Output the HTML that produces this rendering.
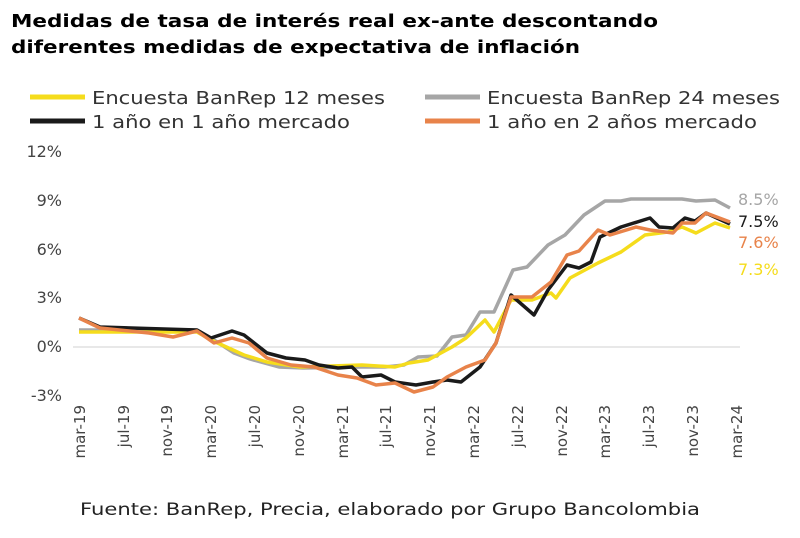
<!DOCTYPE html><html><head><meta charset="utf-8"><style>
body{margin:0;background:#fff;width:800px;height:533px;overflow:hidden}
</style></head><body>
<svg width="800" height="533" xmlns="http://www.w3.org/2000/svg" font-family="DejaVu Sans, Liberation Sans, sans-serif">
<text x="11" y="27" font-size="18" font-weight="bold" textLength="647" lengthAdjust="spacingAndGlyphs">Medidas de tasa de interés real ex-ante descontando</text>
<text x="11" y="53" font-size="18" font-weight="bold" textLength="569" lengthAdjust="spacingAndGlyphs">diferentes medidas de expectativa de inflación</text>
<g font-size="18" fill="#333">
<line x1="30" y1="97" x2="85" y2="97" stroke="#f5dc1c" stroke-width="5"/><text x="92" y="104" textLength="293" lengthAdjust="spacingAndGlyphs">Encuesta BanRep 12 meses</text>
<line x1="425" y1="97" x2="480" y2="97" stroke="#a6a6a6" stroke-width="5"/><text x="487" y="104" textLength="293" lengthAdjust="spacingAndGlyphs">Encuesta BanRep 24 meses</text>
<line x1="30" y1="121" x2="85" y2="121" stroke="#1a1a1a" stroke-width="5"/><text x="92" y="128" textLength="258" lengthAdjust="spacingAndGlyphs">1 año en 1 año mercado</text>
<line x1="425" y1="121" x2="480" y2="121" stroke="#e8834a" stroke-width="5"/><text x="487" y="128" textLength="270" lengthAdjust="spacingAndGlyphs">1 año en 2 años mercado</text>
</g>
<g font-size="16" fill="#444" text-anchor="end">
<text x="62" y="157">12%</text><text x="62" y="206">9%</text><text x="62" y="255">6%</text><text x="62" y="303">3%</text><text x="62" y="352">0%</text><text x="62" y="401">-3%</text>
</g>
<line x1="73" y1="347" x2="740" y2="347" stroke="#d0d0d0" stroke-width="1"/>
<g fill="none" stroke-width="3.5" stroke-linejoin="round" transform="translate(-5,0)">
<polyline stroke="#a6a6a6" points="84,330 202,330 216,338 239,353 255,359 284,367 308,368 367,367 390,367 409,365 423,357 442,356 457,337 471,335 485,312 499,312 518,270 532,267 553,245 570,235 589,215 610,201 626,201 636,199 687,199 701,201 720,200 735,208"/>
<polyline stroke="#f5dc1c" points="84,332 202,332 216,340 249,355 272,362 305,367 367,365 400,367 414,363 433,360 457,347 471,338 490,320 499,332 516,300 537,300 556,293 561,298 575,278 603,263 626,252 650,235 673,232 687,227 701,233 720,223 735,228"/>
<polyline stroke="#1a1a1a" points="84,318 105,327 202,330 216,338 237,331 249,335 272,353 291,358 310,360 324,365 343,368 357,367 367,377 386,375 400,382 421,385 438,382 452,380 466,382 485,367 501,343 516,295 539,315 553,290 572,265 584,268 596,262 605,237 626,227 655,218 664,227 678,228 690,218 700,221 711,213 735,224"/>
<polyline stroke="#e8834a" points="84,318 105,328 154,333 178,337 202,331 219,343 237,338 254,343 272,358 296,365 319,367 343,375 362,378 381,385 400,383 419,392 438,387 452,377 471,367 490,360 501,343 516,297 537,297 556,282 572,255 584,251 603,230 615,235 641,227 655,230 678,233 687,223 700,223 711,213 735,222"/>
</g>
<g font-size="16">
<text x="738" y="205" fill="#a6a6a6">8.5%</text>
<text x="738" y="227" fill="#1a1a1a">7.5%</text>
<text x="738" y="248" fill="#e8834a">7.6%</text>
<text x="738" y="275" fill="#f5dc1c">7.3%</text>
</g>
<g font-size="15" fill="#444" text-anchor="end">
<text transform="translate(85,405) rotate(-90)">mar-19</text>
<text transform="translate(129,405) rotate(-90)">jul-19</text>
<text transform="translate(172,405) rotate(-90)">nov-19</text>
<text transform="translate(216,405) rotate(-90)">mar-20</text>
<text transform="translate(260,405) rotate(-90)">jul-20</text>
<text transform="translate(304,405) rotate(-90)">nov-20</text>
<text transform="translate(348,405) rotate(-90)">mar-21</text>
<text transform="translate(391,405) rotate(-90)">jul-21</text>
<text transform="translate(435,405) rotate(-90)">nov-21</text>
<text transform="translate(479,405) rotate(-90)">mar-22</text>
<text transform="translate(523,405) rotate(-90)">jul-22</text>
<text transform="translate(567,405) rotate(-90)">nov-22</text>
<text transform="translate(610,405) rotate(-90)">mar-23</text>
<text transform="translate(654,405) rotate(-90)">jul-23</text>
<text transform="translate(698,405) rotate(-90)">nov-23</text>
<text transform="translate(742,405) rotate(-90)">mar-24</text>
</g>
<text x="80" y="515" font-size="17" fill="#222" textLength="620" lengthAdjust="spacingAndGlyphs">Fuente: BanRep, Precia, elaborado por Grupo Bancolombia</text>
</svg>
</body></html>
